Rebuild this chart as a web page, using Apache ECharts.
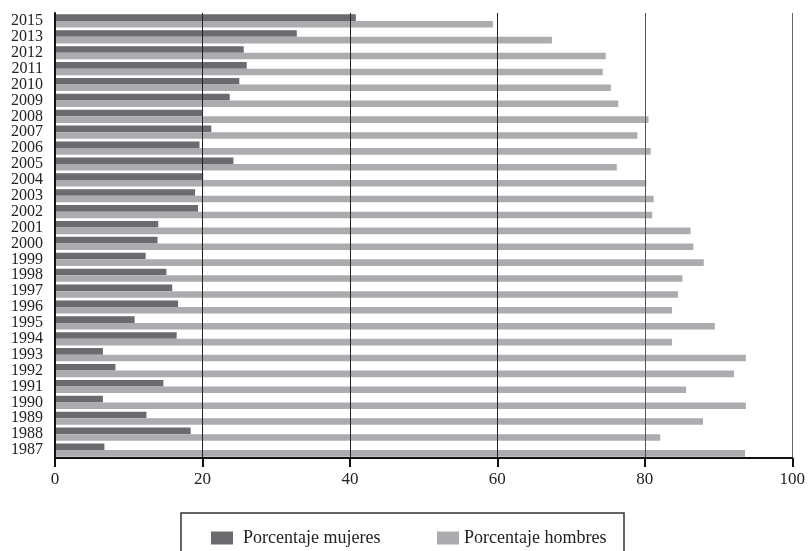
<!DOCTYPE html>
<html>
<head>
<meta charset="utf-8">
<script src="https://cdn.jsdelivr.net/npm/echarts@6/dist/echarts.min.js"></script>
<style>
  html, body { margin: 0; padding: 0; background: #fff; }
  #chart { width: 808px; height: 551px; }
</style>
</head>
<body>
<div id="chart"></div>
<script>
// years from bottom to top (2014 is missing in the source)
var years = ['1987', '1988', '1989', '1990', '1991', '1992', '1993', '1994', '1995', '1996',
    '1997', '1998', '1999', '2000', '2001', '2002', '2003', '2004', '2005', '2006',
    '2007', '2008', '2009', '2010', '2011', '2012', '2013', '2015'];
var mujeres = [6.7, 18.4, 12.4, 6.5, 14.7, 8.2, 6.5, 16.5, 10.8, 16.7,
    15.9, 15.1, 12.3, 13.9, 14.0, 19.4, 19.0, 20.1, 24.2, 19.6,
    21.2, 20.0, 23.7, 25.0, 26.0, 25.6, 32.8, 40.8];
var hombres = [93.6, 82.1, 87.9, 93.7, 85.6, 92.1, 93.7, 83.7, 89.5, 83.7,
    84.5, 85.1, 88.0, 86.6, 86.2, 81.0, 81.2, 80.2, 76.2, 80.8,
    79.0, 80.5, 76.4, 75.4, 74.3, 74.7, 67.4, 59.4];
var seriesNames = ['Porcentaje mujeres', 'Porcentaje hombres'];

var font = 'Liberation Serif';
var chart = echarts.init(document.getElementById('chart'));

var options = {
    animation: false,
    backgroundColor: '#fff',
    color: ['#6a6a6f', '#acacb0'],
    grid: { left: 55, right: 11, top: 13, bottom: 93 },
    legend: [
        {
            left: 206, top: 524,
            itemWidth: 22, itemHeight: 13,
            icon: 'rect',
            data: [seriesNames[0]],
            textStyle: { fontFamily: font, fontSize: 18, color: '#222', padding: [0, 0, 0, 5] }
        },
        {
            left: 432, top: 524,
            itemWidth: 22, itemHeight: 13,
            icon: 'rect',
            data: [seriesNames[1]],
            textStyle: { fontFamily: font, fontSize: 18, color: '#222' }
        }
    ],
    graphic: [{
        type: 'rect',
        shape: { x: 181, y: 513, width: 443, height: 60 },
        style: { fill: 'none', stroke: '#333', lineWidth: 1.5 },
        silent: true
    }],
    xAxis: {
        type: 'value',
        min: 0, max: 100, interval: 20,
        z: 5,
        axisLine: { show: true, onZero: false, lineStyle: { color: '#111', width: 2 } },
        axisTick: { show: true, length: 9, lineStyle: { color: '#111', width: 2 } },
        axisLabel: { fontFamily: font, fontSize: 17, color: '#222', margin: 13 },
        splitLine: {
            show: true,
            lineStyle: { color: ['#222', '#222', '#222', '#222', '#555', '#666'], width: 1 }
        }
    },
    yAxis: {
        type: 'category',
        data: years,
        z: 5,
        axisLine: { show: true, lineStyle: { color: '#111', width: 2 } },
        axisTick: { show: false },
        axisLabel: { fontFamily: font, fontSize: 16, color: '#222', margin: 12, interval: 0 },
        splitLine: { show: false }
    },
    series: [
        {
            name: seriesNames[0],
            type: 'bar',
            data: mujeres,
            barWidth: 6.6,
            barGap: '0%'
        },
        {
            name: seriesNames[1],
            type: 'bar',
            data: hombres,
            barWidth: 6.6,
            barGap: '0%'
        }
    ]
};
chart.setOption(options);
</script>
</body>
</html>
